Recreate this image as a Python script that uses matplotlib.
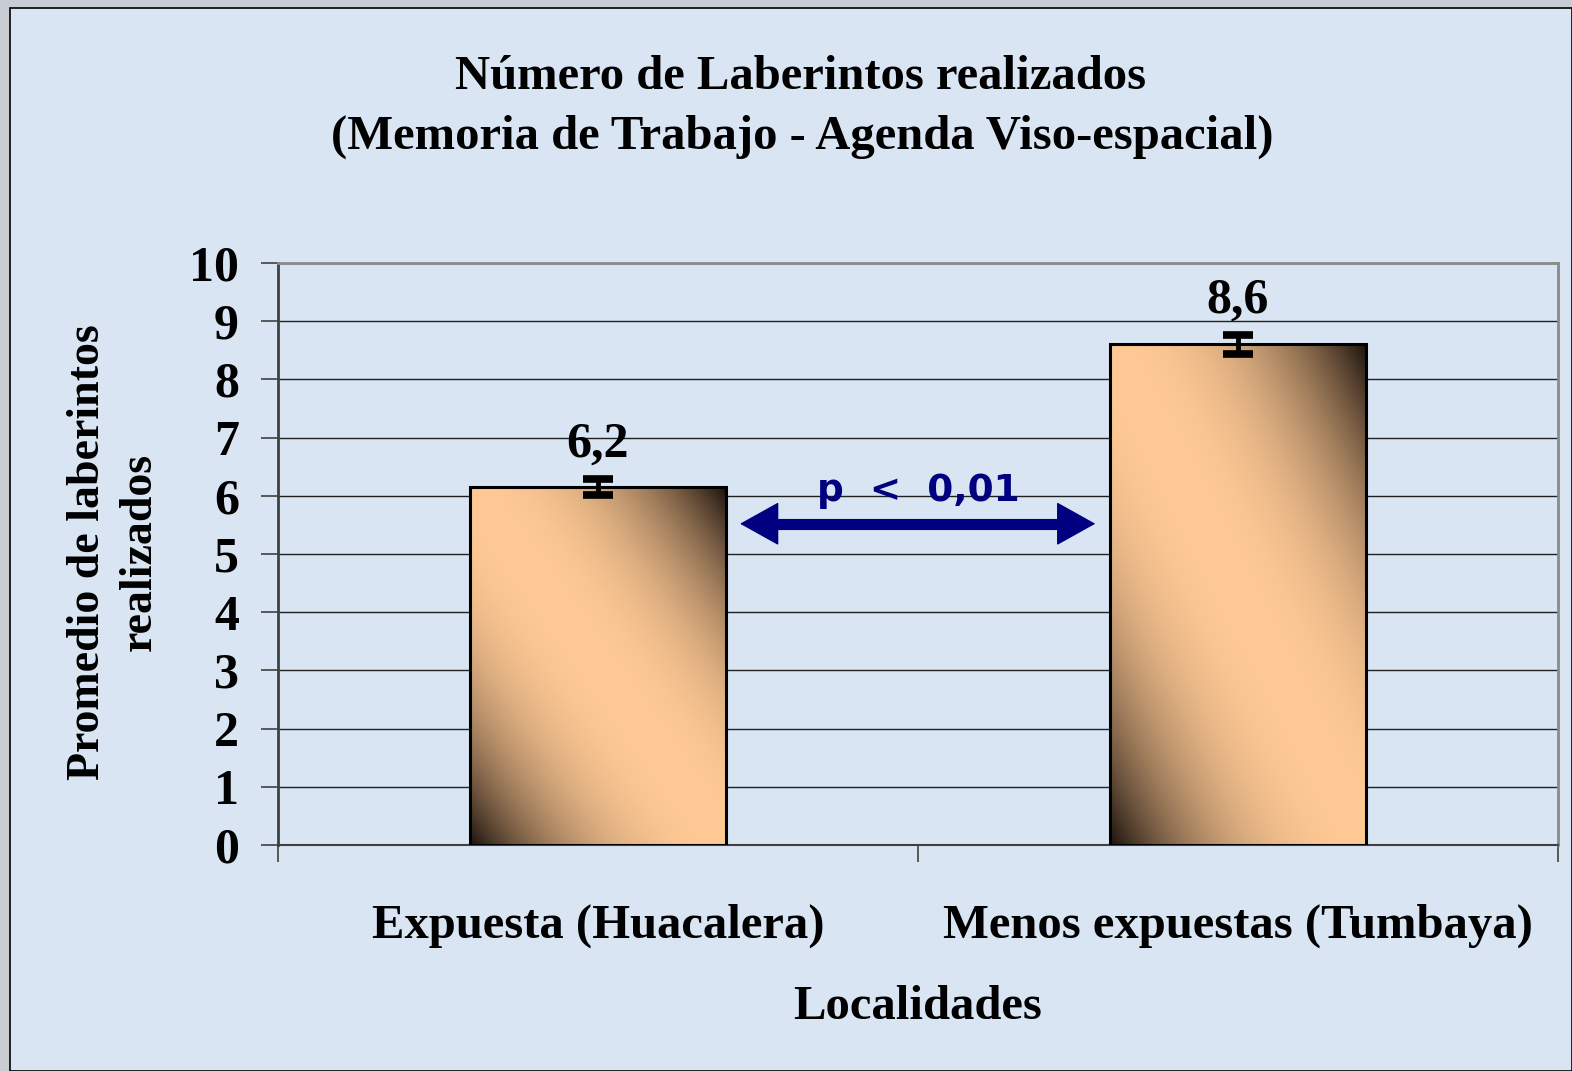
import numpy as np
import matplotlib
matplotlib.use("Agg")
import matplotlib.pyplot as plt
from matplotlib.patches import Rectangle
from matplotlib.colors import to_rgb

# data
localidades = ["Expuesta (Huacalera)", "Menos expuestas (Tumbaya)"]
promedios = [6.15, 8.6]
errores = [0.14, 0.16]
etiquetas = ["6,2", "8,6"]
y_ticks = list(range(0, 11))

bg_color = "#d9e5f3"
light = np.array(to_rgb("#fec994"))
dark = np.array(to_rgb("#1c130d"))
navy = "#000080"
serif = ["Liberation Serif", "DejaVu Serif"]


def gradient_image(n=300):
    # dark at bottom-left and top-right corners, light band along the other diagonal
    u, v = np.meshgrid(np.linspace(0, 1, n), np.linspace(0, 1, n))
    s = (u + v) / 2
    f = np.abs(s - 0.5) / 0.5
    w = f ** 2.3
    return light[None, None, :] * (1 - w[..., None]) + dark[None, None, :] * w[..., None]


def main():
    fig = plt.figure(figsize=(15.72, 10.71), dpi=100)
    fig.patch.set_facecolor("#c9ccd3")
    fig.patches.append(Rectangle((10 / 1572, 0), 1 - 10 / 1572, 1 - 8 / 1071, transform=fig.transFigure,
                                 facecolor=bg_color, edgecolor="black", linewidth=1.2, zorder=-5))

    ax = fig.add_axes([278 / 1572, 1 - 845 / 1071, (1558 - 278) / 1572, (845 - 263) / 1071])
    ax.set_facecolor(bg_color)

    x = np.arange(len(localidades))
    bars = ax.bar(x, promedios, width=0.4, color="none", edgecolor="black", linewidth=2.2, zorder=4)
    img = gradient_image()
    for b in bars:
        x0, y0 = b.get_x(), b.get_y()
        im = ax.imshow(img, extent=[x0, x0 + b.get_width(), y0, y0 + b.get_height()],
                       origin="lower", aspect="auto", zorder=3, interpolation="bilinear")
        im.set_clip_path(b)

    eb = ax.errorbar(x, promedios, yerr=errores, fmt="none", ecolor="black", elinewidth=3.5,
                     capsize=11, capthick=5.5, zorder=5)
    for line in eb.lines[1]:
        line.set_solid_capstyle("round")

    for xi, m, e, lab in zip(x, promedios, errores, etiquetas):
        ax.annotate(lab, (xi, m + e), xytext=(0, 8), textcoords="offset points",
                    ha="center", va="bottom", fontsize=36, fontweight="bold", family=serif, zorder=6)

    # significance arrow between the bars
    xa, xb, ya = 0.222, 0.777, 5.52
    head = 0.058
    ax.annotate("", xy=(xa, ya), xytext=(xb, ya),
                arrowprops=dict(arrowstyle="<|-|>,head_length=2.6,head_width=1.45", color=navy,
                                linewidth=1, shrinkA=0, shrinkB=0), zorder=6)
    ax.plot([xa + head * 0.9, xb - head * 0.9], [ya, ya], color=navy, linewidth=8,
            solid_capstyle="butt", zorder=6)
    ax.text(0.5, 6.08, "p  <  0,01", ha="center", va="center", fontsize=27, fontweight="bold",
            color=navy, family=["DejaVu Sans"], zorder=6)

    ax.set_xlim(-0.5, 1.5)
    ax.set_ylim(0, 10)
    ax.set_yticks(y_ticks)
    ax.set_yticklabels([str(t) for t in y_ticks], fontsize=36, fontweight="bold", family=serif)
    ax.set_xticks([-0.5, 0.5, 1.5])
    ax.set_xticklabels([])
    ax.set_xticks(x, minor=True)
    ax.set_xticklabels(localidades, minor=True, fontsize=35, fontweight="bold", family=serif)
    ax.tick_params(axis="x", which="minor", length=0, pad=42)
    ax.tick_params(axis="x", which="major", length=12, width=1.2, color="#404040", direction="out")
    ax.tick_params(axis="y", length=12, width=1.2, color="#404040", direction="out", pad=16)

    ax.yaxis.grid(True, color="#202020", linewidth=1.0, zorder=1)
    ax.set_axisbelow(True)
    ax.spines["left"].set_color("#404040")
    ax.spines["left"].set_linewidth(2)
    ax.spines["bottom"].set_color("#404040")
    ax.spines["bottom"].set_linewidth(1.5)
    ax.spines["top"].set_color("#8a8a8a")
    ax.spines["top"].set_linewidth(2)
    ax.spines["right"].set_color("#8a8a8a")
    ax.spines["right"].set_linewidth(2)

    ax.set_xlabel("Localidades", fontsize=35, fontweight="bold", family=serif)
    ax.xaxis.set_label_coords(0.5, (845 - 1007) / 582)
    ax.xaxis.label.set_va("center")
    ax.set_ylabel("Promedio de laberintos\nrealizados", fontsize=33, fontweight="bold", family=serif,
                  linespacing=1.32)
    ax.yaxis.set_label_coords((114 - 278) / 1280, (845 - 552) / 582)
    ax.yaxis.label.set_va("center")
    ax.yaxis.label.set_ha("center")

    fig.text(801 / 1572, 1 - 77 / 1071, "Número de Laberintos realizados",
             ha="center", va="center", fontsize=35, fontweight="bold", family=serif)
    fig.text(802 / 1572, 1 - 137 / 1071, "(Memoria de Trabajo - Agenda Viso-espacial)",
             ha="center", va="center", fontsize=35, fontweight="bold", family=serif)

    fig.savefig("out.png", dpi=100, facecolor=fig.get_facecolor())


if __name__ == "__main__":
    main()
